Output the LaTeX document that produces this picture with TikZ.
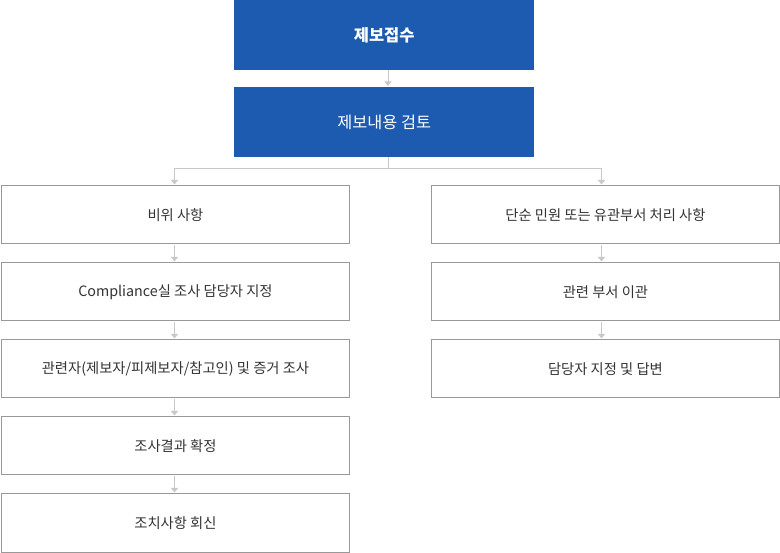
\documentclass[tikz,border=0pt]{standalone}
\usepackage{fontspec}
\setmainfont{Noto Sans CJK KR}
\usetikzlibrary{arrows.meta}
\definecolor{mainblue}{HTML}{1C5BAF}
\definecolor{boxline}{HTML}{999999}
\definecolor{conn}{HTML}{C8C8C8}
\definecolor{txt}{HTML}{333333}
\begin{document}
\begin{tikzpicture}[x=1pt,y=-1pt,
  bluebox/.style={fill=mainblue, text=white, minimum width=300pt, minimum height=70pt, inner sep=0pt, anchor=north west},
  graybox/.style={draw=boxline, line width=0.9pt, fill=white, text=txt, minimum width=348pt, minimum height=58pt, inner sep=0pt, anchor=north west, font=\fontsize{14.3pt}{16pt}\selectfont},
  conline/.style={draw=conn, line width=0.9pt},
  conarrow/.style={conline, -{Triangle[width=7pt,length=4.5pt]}, shorten >=1pt}
]
\useasboundingbox (0,0) rectangle (780,553);
\node[bluebox, font=\fontsize{16.5pt}{18pt}\selectfont\bfseries] (a) at (234,0) {제보접수};
\node[bluebox, minimum height=70pt, font=\fontsize{16.3pt}{18pt}\selectfont] (b) at (234,87) {제보내용 검토};

\node[graybox] (l1) at (1,185.5) {비위 사항};
\node[graybox] (l2) at (1,262.5) {Compliance실 조사 담당자 지정};
\node[graybox] (l3) at (1,339.5) {관련자(제보자/피제보자/참고인) 및 증거 조사};
\node[graybox] (l4) at (1,416.5) {조사결과 확정};
\node[graybox] (l5) at (1,493.5) {조치사항 회신};

\node[graybox] (r1) at (431,185.5) {단순 민원 또는 유관부서 처리 사항};
\node[graybox] (r2) at (431,262.5) {관련 부서 이관};
\node[graybox] (r3) at (431,339.5) {담당자 지정 및 답변};

\coordinate (j) at (388,168);
\coordinate (jl) at (174.5,168);
\coordinate (jr) at (601.5,168);

\draw[conarrow] (a.south -| j) -- (b.north -| j);
\draw[conline] (b.south -| j) -- (j);
\draw[conline] (jl) -- (jr);
\draw[conarrow] (jl) -- (l1.north -| jl);
\draw[conarrow] (jr) -- (r1.north -| jr);

\foreach \u/\v in {l1/l2,l2/l3,l3/l4,l4/l5}{
  \draw[conarrow] ([yshift=-1pt]\u.south -| jl) -- (\v.north -| jl);
}
\foreach \u/\v in {r1/r2,r2/r3}{
  \draw[conarrow] ([yshift=-1pt]\u.south -| jr) -- (\v.north -| jr);
}
\end{tikzpicture}
\end{document}
